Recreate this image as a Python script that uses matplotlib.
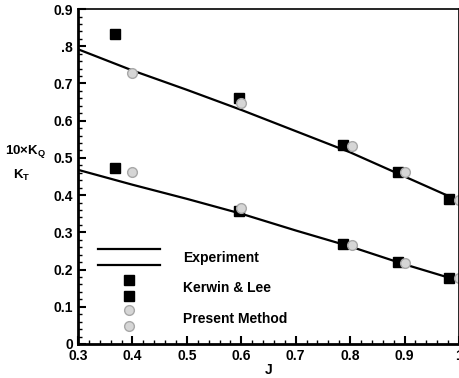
import matplotlib
matplotlib.use('Agg')
import matplotlib.pyplot as plt
from matplotlib.lines import Line2D
from matplotlib.legend_handler import HandlerBase
from matplotlib.ticker import MultipleLocator

# Experiment (solid lines)
exp_j = [0.3, 0.4, 0.5, 0.6, 0.7, 0.8, 0.9, 1.0]
exp_kq10 = [0.792, 0.735, 0.683, 0.629, 0.572, 0.515, 0.450, 0.385]
exp_kt = [0.468, 0.428, 0.390, 0.350, 0.305, 0.262, 0.214, 0.170]

# Kerwin & Lee (black squares)
kl_j = [0.368, 0.595, 0.786, 0.887, 0.982]
kl_kq10 = [0.832, 0.661, 0.534, 0.462, 0.390]
kl_kt = [0.474, 0.357, 0.268, 0.220, 0.178]

# Present Method (grey circles)
pm_j = [0.4, 0.6, 0.803, 0.9, 1.0]
pm_kq10 = [0.728, 0.648, 0.532, 0.462, 0.388]
pm_kt = [0.462, 0.366, 0.266, 0.218, 0.176]

x_ticks = [0.3, 0.4, 0.5, 0.6, 0.7, 0.8, 0.9, 1.0]
x_labels = ['0.3', '0.4', '0.5', '0.6', '0.7', '0.8', '0.9', '1']
y_ticks = [0, 0.1, 0.2, 0.3, 0.4, 0.5, 0.6, 0.7, 0.8, 0.9]
y_labels = ['0', '0.1', '0.2', '0.3', '0.4', '0.5', '0.6', '0.7', '.8', '0.9']


class TwoRowHandler(HandlerBase):
    # draws the same handle twice, one above the other
    def create_artists(self, legend, orig_handle, xdescent, ydescent,
                       width, height, fontsize, trans):
        arts = []
        for dy in (5.8, -5.8):
            y = height / 2 - ydescent + dy
            if orig_handle.get_linestyle() not in ('None', 'none', ''):
                ln = Line2D([-xdescent, width - xdescent], [y, y])
            else:
                ln = Line2D([width / 2 - xdescent], [y])
            ln.update_from(orig_handle)
            ln.set_transform(trans)
            arts.append(ln)
        return arts


def main():
    plt.rcParams['font.family'] = ['Liberation Sans', 'DejaVu Sans']
    plt.rcParams['font.weight'] = 'bold'
    plt.rcParams['mathtext.fontset'] = 'custom'
    plt.rcParams['mathtext.rm'] = 'Liberation Sans:bold'
    plt.rcParams['mathtext.bf'] = 'Liberation Sans:bold'
    plt.rcParams['mathtext.it'] = 'Liberation Sans:bold'

    fig = plt.figure(figsize=(4.59, 3.78), dpi=100)
    ax = fig.add_axes([0.170, 0.090, 0.830, 0.886])

    exp_kw = dict(color='black', lw=1.6)
    ax.plot(exp_j, exp_kq10, **exp_kw)
    ax.plot(exp_j, exp_kt, **exp_kw)

    sq_kw = dict(ls='none', marker='s', ms=7, mfc='black', mec='black')
    ax.plot(kl_j, kl_kq10, **sq_kw)
    ax.plot(kl_j, kl_kt, **sq_kw)

    pm_kw = dict(ls='none', marker='o', ms=7, mfc='#d6d6d6', mec='#a8a8a8', mew=1.0)
    ax.plot(pm_j, pm_kq10, **pm_kw)
    ax.plot(pm_j, pm_kt, **pm_kw)

    ax.set_xlim(0.3, 1.0)
    ax.set_ylim(0, 0.9)
    ax.set_xticks(x_ticks)
    ax.set_xticklabels(x_labels)
    ax.set_yticks(y_ticks)
    ax.set_yticklabels(y_labels)
    ax.xaxis.set_minor_locator(MultipleLocator(0.02))
    ax.yaxis.set_minor_locator(MultipleLocator(0.02))
    ax.tick_params(which='major', direction='in', length=6, width=1.5, labelsize=10)
    ax.tick_params(which='minor', direction='in', length=3, width=1)
    for s in ('left', 'bottom'):
        ax.spines[s].set_linewidth(2)
    for s in ('top', 'right'):
        ax.spines[s].set_linewidth(1.2)

    ax.set_xlabel('J', fontsize=10, fontweight='bold', labelpad=0)
    fig.text(0.055, 0.598, r'$\mathbf{10{\times}K_Q}$', fontsize=9.5, ha='center', va='center')
    fig.text(0.048, 0.537, r'$\mathbf{K_T}$', fontsize=9.5, ha='center', va='center')

    handles = [Line2D([], [], **exp_kw), Line2D([], [], **sq_kw), Line2D([], [], **pm_kw)]
    labels = ['Experiment', 'Kerwin & Lee', 'Present Method']
    ax.legend(handles, labels, handler_map={Line2D: TwoRowHandler()},
              loc='upper left', bbox_to_anchor=(0.052, 0.286), frameon=False,
              borderpad=0, borderaxespad=0, handlelength=4.46, handleheight=1.6,
              handletextpad=1.65, labelspacing=0.91, fontsize=10)

    fig.savefig('out.png', dpi=100)


if __name__ == '__main__':
    main()
